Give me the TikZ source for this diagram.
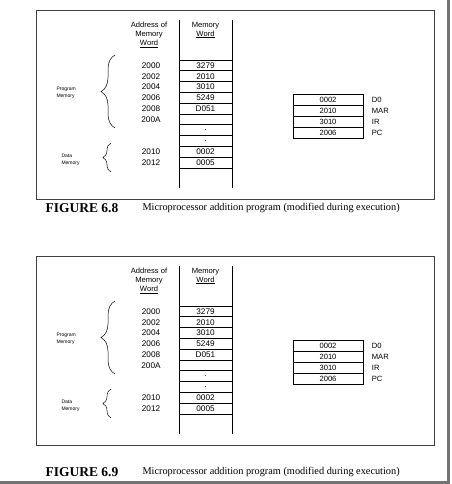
\documentclass[tikz,border=0pt]{standalone}
\usepackage{fontspec}
\setmainfont{Liberation Serif}
\setsansfont{Liberation Sans}
\usetikzlibrary{positioning, decorations.pathreplacing}

\tikzset{
  small/.style={font=\sffamily\fontsize{7.6}{9}\selectfont},
  digits/.style={font=\sffamily\fontsize{8.2}{9}\selectfont},
  tiny/.style={font=\sffamily\fontsize{5}{6.5}\selectfont, align=left},
  cell/.style={draw, line width=0.7pt, minimum width=53pt, minimum height=10.8pt,
    inner sep=0pt, digits},
  reg/.style={draw, line width=0.7pt, minimum width=70pt, minimum height=11pt,
    inner sep=0pt, small},
  curly/.style={decorate, decoration={brace, amplitude=#1, aspect=0.5}, line width=0.5pt},
  frame/.style={line width=0.9pt, black!75}
}

\begin{document}
\begin{tikzpicture}[x=1pt, y=-1pt]
\useasboundingbox (0,0) rectangle (451,484);
\fill[white] (0,0) rectangle (451,484);

% Page edge
\fill[black!55] (446.5,0) rectangle (449.5,482);
\fill[black!55] (0,481) rectangle (449.5,484);

\foreach \yy/\capy/\num in {0/208/6.8, 246/226/6.9} {
\begin{scope}[yshift=-\yy]

% Frame
\draw[frame] (36,10) rectangle (434,199);

% Headers
\node[small, align=center] (hA\num) at (149,35) {Address of\\Memory\\\underline{Word}};
\node[small, align=center] (hM\num) at (205.5,30) {Memory\\\underline{Word}};

% Memory column
\draw[line width=0.7pt] (179,20) -- (179,188);
\draw[line width=0.7pt] (232,20) -- (232,188);

% Memory words and addresses
\foreach \i/\adr/\val in {1/2000/3279, 2/2002/2010, 3/2004/3010, 4/2006/5249,
    5/2008/D051, 6/200A/, 7//., 8//., 9/2010/0002, 10/2012/0005} {
  \node[cell] (w\i) at (205.5,54.6+10.8*\i) {\val};
  \node[digits] (a\i) at (151,54.6+10.8*\i) {\adr};
}

% Braces
\draw[curly=14pt] (115,128) -- (115,55);
\draw[curly=8pt] (111,172) -- (111,143);
\node[tiny, anchor=west] (pm\num) at (53,93) {Program\\Memory};
\node[tiny, anchor=west] (dm\num) at (58,160) {Data\\Memory};

% Registers
\foreach \i/\val/\lab in {1/0002/D0, 2/2010/MAR, 3/3010/IR, 4/2006/PC} {
  \node[reg] (r\i) at (328,88.5+11*\i) {\val};
  \node[small, right=5pt of r\i] (l\i) {\lab};
}

% Caption
\node[anchor=west, font=\bfseries\fontsize{13.5}{15}\selectfont] (fig\num) at (42,\capy) {FIGURE \num};
\node[anchor=west, font=\fontsize{10.3}{12}\selectfont] (cap\num) at (139,\capy)
  {Microprocessor addition program (modified during execution)};

\end{scope}
}

\end{tikzpicture}
\end{document}
